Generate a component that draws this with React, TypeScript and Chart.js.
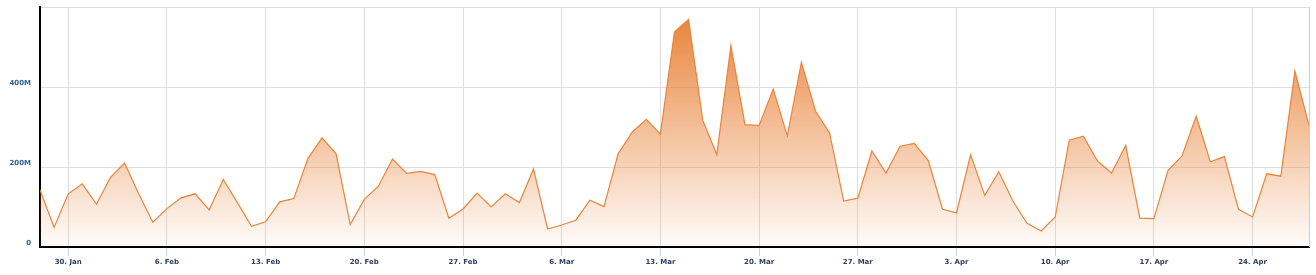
import React, { useEffect, useRef } from "react";
import { Chart, registerables } from "chart.js";

Chart.register(...registerables);

// Daily values (millions), 28 Jan .. 28 Apr
const values: number[] = [
  143, 49, 133, 158, 107, 174, 210, 133, 62, 96,
  123, 133, 93, 169, 111, 52, 63, 113, 121, 221,
  273, 233, 56, 119, 152, 220, 184, 189, 181, 72,
  95, 135, 100, 133, 111, 195, 45, 55, 67, 117,
  101, 233, 287, 319, 282, 538, 569, 317, 231, 503,
  306, 304, 395, 278, 462, 340, 285, 115, 122, 240,
  185, 252, 259, 216, 95, 85, 231, 129, 188, 115,
  59, 40, 75, 267, 277, 215, 185, 254, 72, 71,
  191, 228, 327, 213, 226, 94, 75, 183, 177, 440,
  304,
];

const tickIndices: number[] = [2, 9, 16, 23, 30, 37, 44, 51, 58, 65, 72, 79, 86];
const tickLabels: string[] = [
  "30. Jan", "6. Feb", "13. Feb", "20. Feb", "27. Feb", "6. Mar", "13. Mar",
  "20. Mar", "27. Mar", "3. Apr", "10. Apr", "17. Apr", "24. Apr",
];
const yTicks: number[] = [0, 200, 400, 600];

const W = 1316;
const H = 275;

export default function App() {
  const ref = useRef<HTMLCanvasElement | null>(null);

  useEffect(() => {
    document.body.style.margin = "0";
    const canvas = ref.current;
    if (!canvas) return;

    const borderPlugin = {
      id: "frameBorder",
      afterDraw(chart: any) {
        const { ctx, chartArea } = chart;
        ctx.save();
        ctx.strokeStyle = "#cccccc";
        ctx.lineWidth = 1;
        ctx.beginPath();
        ctx.moveTo(chartArea.right + 0.5, chartArea.top);
        ctx.lineTo(chartArea.right + 0.5, chartArea.bottom);
        ctx.stroke();
        ctx.restore();
      },
    };

    const font = { family: "'DejaVu Sans', sans-serif", size: 7, weight: "bold" as const };

    const chart = new Chart(canvas, {
      type: "line",
      data: {
        datasets: [
          {
            data: values.map((v, i) => ({ x: i, y: v })),
            borderColor: "#e8843c",
            borderWidth: 1.2,
            pointRadius: 0,
            tension: 0,
            fill: "origin",
            backgroundColor: (ctx: any) => {
              const ca = ctx.chart.chartArea;
              if (!ca) return "rgba(232,128,52,0.4)";
              const g = ctx.chart.ctx.createLinearGradient(0, ca.top, 0, ca.bottom);
              g.addColorStop(0, "rgba(232,128,52,1)");
              g.addColorStop(1, "rgba(232,128,52,0.02)");
              return g;
            },
          },
        ],
      },
      options: {
        responsive: false,
        animation: false,
        layout: { padding: { left: 0, right: 7, top: 7, bottom: 0 } },
        plugins: { legend: { display: false }, tooltip: { enabled: false } },
        scales: {
          x: {
            type: "linear",
            min: 0,
            max: values.length - 1,
            afterBuildTicks: (scale: any) => {
              scale.ticks = tickIndices.map((v) => ({ value: v }));
            },
            afterFit: (scale: any) => {
              scale.height = 28;
              scale.paddingLeft = 0;
              scale.paddingRight = 0;
            },
            ticks: {
              autoSkip: false,
              maxRotation: 0,
              padding: 2,
              color: "#2b3f5c",
              font,
              callback: (v: any) => {
                const k = tickIndices.indexOf(Number(v));
                return k >= 0 ? tickLabels[k] : "";
              },
            },
            grid: {
              color: "#dedede",
              tickColor: "#c6d4e3",
              tickLength: 9,
              lineWidth: 1,
            },
            border: { color: "#000000", width: 2 },
          },
          y: {
            min: 0,
            max: 600,
            afterBuildTicks: (scale: any) => {
              scale.ticks = yTicks.map((v) => ({ value: v }));
            },
            afterFit: (scale: any) => {
              scale.width = 40;
              scale.paddingTop = 0;
              scale.paddingBottom = 0;
            },
            ticks: {
              padding: 9,
              labelOffset: -4,
              color: "#2f5f8f",
              font,
              callback: (v: any) => (v === 0 ? "0" : v === 600 ? "" : v + "M"),
            },
            grid: { color: "#dedede", drawTicks: false, lineWidth: 1 },
            border: { color: "#000000", width: 2 },
          },
        },
      },
      plugins: [borderPlugin],
    } as any);

    return () => chart.destroy();
  }, []);

  return (
    <div style={{ width: W, height: H }}>
      <canvas ref={ref} width={W} height={H} style={{ display: "block" }} />
    </div>
  );
}
